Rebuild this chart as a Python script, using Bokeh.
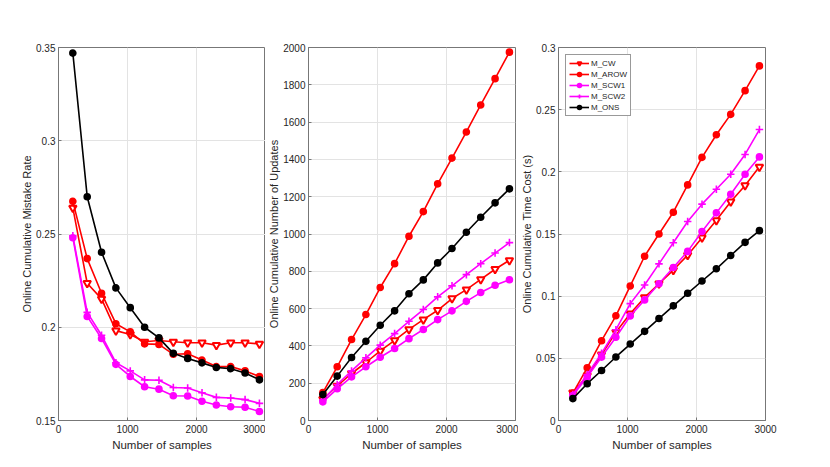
from bokeh.plotting import figure
from bokeh.layouts import row
from bokeh.models import FixedTicker, Range1d, Legend, LegendItem
from bokeh.embed import file_html
from bokeh.resources import INLINE

n_samples = [208, 416, 624, 832, 1040, 1248, 1456, 1664, 1872, 2080, 2288, 2496, 2704, 2912]

series_names = ["M_CW", "M_AROW", "M_SCW1", "M_SCW2", "M_ONS"]

mistake_cw   = [0.264, 0.2236, 0.2152, 0.1982, 0.1961, 0.1922, 0.1929, 0.1922, 0.1917, 0.1917, 0.1904, 0.1917, 0.1917, 0.1911]
mistake_arow = [0.2675, 0.2368, 0.2182, 0.2019, 0.1975, 0.1911, 0.1908, 0.1855, 0.1858, 0.1824, 0.1789, 0.1789, 0.1766, 0.1736]
mistake_scw1 = [0.248, 0.2058, 0.194, 0.1801, 0.1736, 0.1681, 0.1668, 0.1633, 0.1631, 0.1603, 0.1583, 0.1574, 0.1571, 0.1548]
mistake_scw2 = [0.249, 0.208, 0.1957, 0.181, 0.1766, 0.1718, 0.1716, 0.1677, 0.1674, 0.1649, 0.1624, 0.1621, 0.1612, 0.1592]
mistake_ons  = [0.347, 0.270, 0.2402, 0.2211, 0.2105, 0.200, 0.1943, 0.186, 0.1833, 0.1809, 0.1784, 0.1778, 0.1755, 0.1718]

updates_cw   = [114, 186, 252, 311, 373, 430, 489, 541, 591, 654, 702, 757, 811, 859]
updates_arow = [150, 288, 434, 568, 713, 841, 988, 1120, 1269, 1407, 1547, 1692, 1833, 1975]
updates_scw1 = [100, 170, 234, 288, 339, 386, 439, 488, 541, 588, 639, 686, 725, 755]
updates_scw2 = [109, 193, 266, 336, 404, 466, 532, 595, 663, 722, 782, 841, 898, 954]
updates_ons  = [139, 238, 338, 425, 511, 588, 680, 754, 845, 922, 1009, 1090, 1167, 1242]

time_cw   = [0.0224, 0.036, 0.053, 0.071, 0.086, 0.099, 0.110, 0.121, 0.133, 0.147, 0.161, 0.176, 0.189, 0.204]
time_arow = [0.0221, 0.0424, 0.0642, 0.0842, 0.1082, 0.1321, 0.150, 0.1675, 0.1895, 0.2116, 0.2298, 0.2462, 0.2653, 0.2852]
time_scw1 = [0.020, 0.035, 0.051, 0.067, 0.084, 0.097, 0.110, 0.123, 0.136, 0.152, 0.167, 0.182, 0.198, 0.212]
time_scw2 = [0.021, 0.037, 0.054, 0.073, 0.094, 0.109, 0.126, 0.143, 0.160, 0.174, 0.186, 0.198, 0.214, 0.234]
time_ons  = [0.0176, 0.0296, 0.0402, 0.0511, 0.0615, 0.0717, 0.0820, 0.0922, 0.1023, 0.1122, 0.1220, 0.1327, 0.1433, 0.1527]

x_ticks = [0, 1000, 2000, 3000]
mistake_ticks = [0.15, 0.2, 0.25, 0.3, 0.35]
updates_ticks = [0, 200, 400, 600, 800, 1000, 1200, 1400, 1600, 1800, 2000]
time_ticks = [0, 0.05, 0.1, 0.15, 0.2, 0.25, 0.3]

FONT = "Liberation Sans"
AX_COLOR = "#777777"
TXT_COLOR = "#262626"

styles = {
    "M_CW":   dict(color="#ff0000", marker="inverted_triangle", size=7.5, fill="white", lw=2.0),
    "M_AROW": dict(color="#ff0000", marker="circle", size=6, fill="#ff0000", lw=1.6),
    "M_SCW1": dict(color="#ff00ff", marker="circle", size=6, fill="#ff00ff", lw=1.6),
    "M_SCW2": dict(color="#ff00ff", marker="cross", size=7.5, fill="#ff00ff", lw=1.6),
    "M_ONS":  dict(color="#000000", marker="circle", size=6, fill="#000000", lw=1.6),
}


def make_fig(ylabel, yr, yticks, ydata, left, right, legend=False):
    p = figure(width=left + 207 + right, height=458,
               frame_width=207, frame_height=373,
               min_border_left=left, min_border_right=right,
               min_border_top=47, min_border_bottom=38,
               x_range=Range1d(0, 3000), y_range=Range1d(*yr),
               output_backend="svg", toolbar_location=None,
               background_fill_color="white", border_fill_color="white")
    p.outline_line_color = AX_COLOR
    p.outline_line_width = 1
    for ax, ticks in ((p.xaxis[0], x_ticks), (p.yaxis[0], yticks)):
        ax.ticker = FixedTicker(ticks=ticks)
        ax.axis_line_color = AX_COLOR
        ax.major_tick_line_color = AX_COLOR
        ax.major_tick_in = 3
        ax.major_tick_out = 0
        ax.minor_tick_line_color = None
        ax.major_label_text_font = FONT
        ax.major_label_text_font_size = "10px"
        ax.major_label_text_color = TXT_COLOR
        ax.axis_label_text_font = FONT
        ax.axis_label_text_font_size = "11px"
        ax.axis_label_text_font_style = "normal"
        ax.axis_label_text_color = TXT_COLOR
    p.xaxis.axis_label = "Number of samples"
    p.xaxis.axis_label_text_font_size = "11.5px"
    p.yaxis.axis_label = ylabel
    p.xaxis.major_label_standoff = 4
    p.xaxis.axis_label_standoff = 3
    p.yaxis.major_label_standoff = 3
    p.yaxis.axis_label_standoff = 0
    p.xgrid.ticker = FixedTicker(ticks=x_ticks)
    p.ygrid.ticker = FixedTicker(ticks=yticks)
    p.grid.grid_line_color = "#e3e3e3"
    p.grid.grid_line_width = 1

    items = []
    for name, ys in zip(series_names, ydata):
        st = styles[name]
        l = p.line(n_samples, ys, line_color=st["color"], line_width=1.6)
        s = p.scatter(n_samples, ys, marker=st["marker"], size=st["size"],
                      line_color=st["color"], fill_color=st["fill"], line_width=st["lw"])
        items.append(LegendItem(label=name, renderers=[l, s]))
    if legend:
        lg = Legend(items=items, location="top_left")
        lg.label_text_font = FONT
        lg.label_text_font_size = "8px"
        lg.label_text_color = TXT_COLOR
        lg.glyph_height = 10
        lg.glyph_width = 20
        lg.label_height = 10
        lg.label_standoff = 2
        lg.spacing = 1
        lg.padding = 3
        lg.margin = 7
        lg.border_line_color = "#333333"
        lg.border_line_width = 1
        lg.background_fill_alpha = 1
        p.add_layout(lg)
    return p


p1 = make_fig("Online Cumulative Mistake Rate", (0.15, 0.35), mistake_ticks,
              [mistake_cw, mistake_arow, mistake_scw1, mistake_scw2, mistake_ons], 58, 0)
p2 = make_fig("Online Cumulative Number of Updates", (0, 2000), updates_ticks,
              [updates_cw, updates_arow, updates_scw1, updates_scw2, updates_ons], 43, 3)
p3 = make_fig("Online Cumulative Time Cost (s)", (0, 0.3), time_ticks,
              [time_cw, time_arow, time_scw1, time_scw2, time_ons], 38, 20, legend=True)

layout = row(p1, p2, p3, spacing=0)
open("out.html", "w").write(file_html(layout, INLINE))
